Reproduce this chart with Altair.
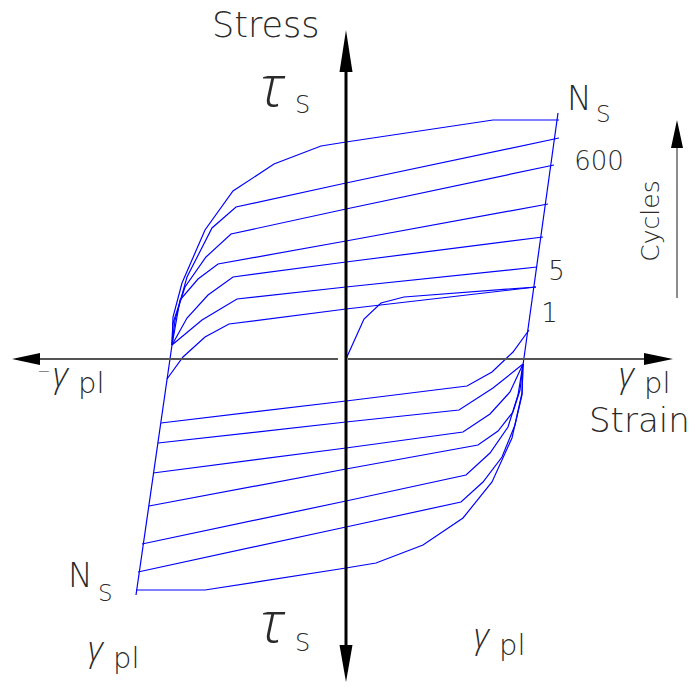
import altair as alt
import pandas as pd

# Drawing frame in strain / stress units, origin at the axis crossing
W, H = 696, 687
S_DOMAIN = [-346, 350]
T_DOMAIN = [-328, 359]

# Monotonic (first) loading path from the origin
initial_loading = [(0, 0), (18, 40), (35, 56), (58, 62), (190, 72)]

# Reloading branches (negative -> positive strain), cycle 1 up to N_S
upper_branches = {
    "U1": [(-179, -20), (-163, 2), (-141, 22), (-117, 35), (0, 50), (190, 72)],
    "U2": [(-174, 14), (-144, 39), (-109, 60), (0, 72), (191, 92)],
    "U3": [(-174, 14), (-159, 41), (-138, 64), (-113, 82), (0, 97), (197, 122)],
    "U4": [(-174, 14), (-166, 59), (-148, 80), (-128, 95), (0, 118), (202, 155)],
    "U5": [(-174, 14), (-173, 36), (-161, 72), (-140, 102), (-115, 125), (0, 150), (208, 194)],
    "U6": [(-174, 14), (-171, 39), (-159, 82), (-134, 131), (-110, 152), (0, 176), (213, 221)],
    "U7": [(-174, 14), (-173, 42), (-164, 76), (-141, 129), (-113, 168), (-72, 195),
           (-25, 213), (0, 217), (147, 239), (213, 239)],
}

# Unloading branches (positive -> negative strain)
lower_branches = {
    "L1": [(183, 29), (167, 7), (146, -13), (121, -27), (0, -42), (-185, -64)],
    "L2": [(177, -5), (147, -29), (113, -51), (0, -63), (-188, -84)],
    "L3": [(177, -5), (164, -33), (144, -55), (117, -73), (0, -89), (-193, -114)],
    "L4": [(177, -5), (174, -31), (167, -53), (152, -72), (132, -86), (0, -110), (-197, -147)],
    "L5": [(177, -5), (172, -36), (162, -68), (144, -94), (120, -116), (0, -142), (-204, -185)],
    "L6": [(177, -5), (176, -36), (169, -66), (156, -98), (137, -123), (115, -143),
           (0, -168), (-208, -213)],
    "L7": [(177, -5), (176, -34), (166, -79), (146, -123), (117, -159), (77, -186),
           (30, -204), (0, -209), (-141, -231), (-210, -231)],
}

# Elastic lines bounding the loops
elastic_right = [(212, 246), (177, -6)]
elastic_left = [(-210, -236), (-174, 14)]

# Axis shafts: (s, t, s2, t2)
stress_axis = [(0, 287, 0, -286)]
strain_axis = [(-306, 0, -8, 0), (2, 0, 298, 0)]
cycles_axis = [(331, 61, 331, 211)]

# Arrowheads: vertical ones as (tip_t, base_t, centre_s, half_width)
v_heads = [(329, 287, 0, 6.5), (-323, -286, 0, 6.5), (239, 211, 331, 6)]
# horizontal ones as (tip_s, base_s, centre_t, half_height)
h_heads = [(-334, -306, 0, 6), (327, 298, 0, 6)]

# Labels
sans_labels = [
    ("Stress", -134, 322, 35),
    ("Strain", 243, -73, 34),
    ("N", 221, 249, 33), ("S", 250, 237, 23),
    ("N", -278, -228, 33), ("S", -248, -242, 23),
    ("S", -51, 246, 24), ("S", -51, -292, 24),
    ("pl", -268, -34, 29), ("pl", 298, -34, 29),
    ("pl", -233, -309, 29), ("pl", 153, -296, 29),
]
cycle_numbers = [("600", 253, 189), ("5", 210.5, 79), ("1", 203.5, 37)]
tau_labels = [("τ", -86, 253), ("τ", -86, -283)]
gamma_labels = [("γ", -293, -28), ("γ", 273, -28), ("γ", -258, -302), ("γ", 128, -289)]
minus_label = [("−", -309, -13)]
cycles_label = [("Cycles", 313, 138)]

# ---- tables -----------------------------------------------------------------
rows = []
def add_curve(name, pts):
    for i, (s, t) in enumerate(pts):
        rows.append({"curve": name, "i": i, "s": s, "t": t})

add_curve("initial", initial_loading)
for k, v in upper_branches.items():
    add_curve(k, v)
for k, v in lower_branches.items():
    add_curve(k, v)
add_curve("elastic_r", elastic_right)
add_curve("elastic_l", elastic_left)
curves = pd.DataFrame(rows)

def seg_df(segs):
    return pd.DataFrame([{"s": a, "t": b, "s2": c, "t2": d} for a, b, c, d in segs])

vh_rows = []
for n, (tip, base, c, hw) in enumerate(v_heads):
    vh_rows.append({"id": n, "t": tip, "s": c, "s2": c})
    vh_rows.append({"id": n, "t": base, "s": c - hw, "s2": c + hw})
vh = pd.DataFrame(vh_rows)

hh_rows = []
for n, (tip, base, c, hh) in enumerate(h_heads):
    hh_rows.append({"id": n, "s": tip, "t": c, "t2": c})
    hh_rows.append({"id": n, "s": base, "t": c - hh, "t2": c + hh})
hhd = pd.DataFrame(hh_rows)

xs = alt.Scale(domain=S_DOMAIN, nice=False, zero=False)
ys = alt.Scale(domain=T_DOMAIN, nice=False, zero=False)
X = alt.X("s:Q", scale=xs, axis=None)
Y = alt.Y("t:Q", scale=ys, axis=None)

TEXT_COLOR = "#2a2a2a"
SANS = "DejaVu Sans"
GREEK = "'Open Sans', Roboto, 'Noto Sans', sans-serif"

loops = alt.Chart(curves).mark_line(color="#0000ff", strokeWidth=1.2).encode(
    x=X, y=Y, detail="curve:N", order="i:Q"
)

def rule_layer(segs, color, width):
    return alt.Chart(seg_df(segs)).mark_rule(color=color, strokeWidth=width).encode(
        x=X, y=Y, x2="s2:Q", y2="t2:Q"
    )

v_arrows = alt.Chart(vh).mark_area(orient="horizontal", color="#000000").encode(
    y=Y, x=X, x2="s2:Q", detail="id:N"
)
h_arrows = alt.Chart(hhd).mark_area(orient="vertical", color="#000000").encode(
    x=X, y=Y, y2="t2:Q", detail="id:N"
)

def text_df(items, cols):
    return pd.DataFrame([dict(zip(cols, it)) for it in items])

sans_text = alt.Chart(text_df(sans_labels, ["label", "s", "t", "fs"])).mark_text(
    font=SANS, fontWeight=200, align="left", baseline="alphabetic", color=TEXT_COLOR
).encode(x=X, y=Y, text="label:N", size=alt.Size("fs:Q", scale=None, legend=None))

numbers_text = alt.Chart(text_df(cycle_numbers, ["label", "s", "t"])).mark_text(
    font=SANS, fontWeight=200, fontSize=26, align="center", baseline="alphabetic",
    color=TEXT_COLOR
).encode(x=X, y=Y, text="label:N")

tau_text = alt.Chart(text_df(tau_labels, ["label", "s", "t"])).mark_text(
    font=GREEK, fontWeight=300, fontStyle="italic", fontSize=58, align="left",
    baseline="alphabetic", color=TEXT_COLOR
).encode(x=X, y=Y, text="label:N")

gamma_text = alt.Chart(text_df(gamma_labels, ["label", "s", "t"])).mark_text(
    font=GREEK, fontWeight=300, fontStyle="italic", fontSize=34, align="left",
    baseline="alphabetic", color=TEXT_COLOR
).encode(x=X, y=Y, text="label:N")

minus_text = alt.Chart(text_df(minus_label, ["label", "s", "t"])).mark_text(
    font=SANS, fontWeight=200, fontSize=16, align="left", baseline="middle",
    color=TEXT_COLOR
).encode(x=X, y=Y, text="label:N")

cycles_text = alt.Chart(text_df(cycles_label, ["label", "s", "t"])).mark_text(
    font=SANS, fontWeight=200, fontSize=25, angle=270, align="center",
    baseline="alphabetic", color=TEXT_COLOR
).encode(x=X, y=Y, text="label:N")

chart = alt.layer(
    loops,
    rule_layer(strain_axis, "#555555", 2),
    rule_layer(cycles_axis, "#666666", 1.5),
    rule_layer(stress_axis, "#000000", 3),
    v_arrows, h_arrows,
    sans_text, numbers_text, tau_text, gamma_text, minus_text, cycles_text,
).properties(
    width=W, height=H, padding=0,
    autosize=alt.AutoSizeParams(type="none"),
).configure_view(stroke=None)

chart.save("out.html", embed_options={"renderer": "svg", "actions": False})
